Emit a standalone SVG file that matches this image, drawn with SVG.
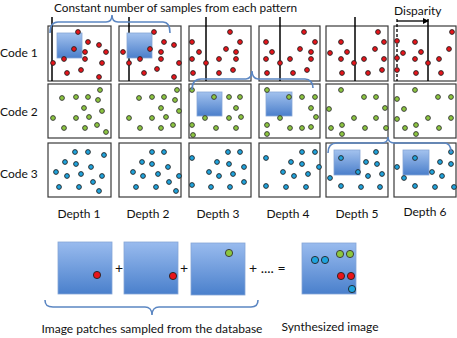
<svg xmlns="http://www.w3.org/2000/svg" width="457" height="338" viewBox="0 0 457 338">
<style>
text{font-family:Lato,"Liberation Sans",Arial,sans-serif;fill:#111;}
.lbl{font-size:12px;}
.box{fill:#fff;stroke:#3a3a3a;stroke-width:1.2;}
.patch{fill:url(#pg);stroke:#86a6d6;stroke-width:0.8;}
.bp{fill:url(#pg2);stroke:#86a6d6;stroke-width:0.8;}
.r{fill:#e8141a;stroke:#222;stroke-width:0.9;}
.g{fill:#8cc63f;stroke:#333;stroke-width:0.9;}
.b{fill:#1fa3dd;stroke:#222;stroke-width:0.9;}
.vl{stroke:#000;stroke-width:1.5;}
.brace{fill:none;stroke:#5b86c2;stroke-width:1.6;}
</style>
<defs>
<linearGradient id="pg" x1="0" y1="0" x2="0" y2="1"><stop offset="0" stop-color="#a3c2ee"/><stop offset="1" stop-color="#4b7fcb"/></linearGradient>
<linearGradient id="pg2" x1="0" y1="0" x2="0" y2="1"><stop offset="0" stop-color="#99bbee"/><stop offset="1" stop-color="#4a80cc"/></linearGradient>
<marker id="ah" markerWidth="6" markerHeight="6" refX="5" refY="3" orient="auto" markerUnits="userSpaceOnUse"><path d="M0,0 L6,3 L0,6 z" fill="#000"/></marker>
</defs>

<text class="lbl" x="54" y="12" style="font-size:11.8px">Constant number of samples from each pattern</text>
<text class="lbl" x="0" y="57">Code 1</text>
<text class="lbl" x="0" y="116">Code 2</text>
<text class="lbl" x="0" y="178">Code 3</text>
<g id="depth-labels" class="lbl" text-anchor="middle">
<text x="79" y="218">Depth 1</text>
<text x="148" y="218">Depth 2</text>
<text x="218" y="218">Depth 3</text>
<text x="288" y="218">Depth 4</text>
<text x="357" y="218">Depth 5</text>
<text x="425" y="216">Depth 6</text>
</g>

<!-- Row 1 -->
<g id="c1d1"><rect class="box" x="48" y="26" width="63" height="55"/><line class="vl" x1="52" y1="17" x2="52" y2="81"/><rect class="patch" x="57" y="33" width="25" height="25"/>
<g class="r"><circle cx="78" cy="32" r="2.4"/><circle cx="88" cy="42" r="2.4"/><circle cx="99" cy="45" r="2.4"/><circle cx="74" cy="49" r="2.4"/><circle cx="85" cy="52" r="2.4"/><circle cx="106" cy="52" r="2.4"/><circle cx="64" cy="59" r="2.4"/><circle cx="85" cy="59" r="2.4"/><circle cx="53" cy="63" r="2.4"/><circle cx="102" cy="63" r="2.4"/><circle cx="81" cy="70" r="2.4"/><circle cx="67" cy="73" r="2.4"/><circle cx="99" cy="77" r="2.4"/></g></g>
<g id="c1d2"><rect class="box" x="119" y="26" width="62" height="55"/><line class="vl" x1="129" y1="17" x2="129" y2="81"/><rect class="patch" x="127" y="33" width="25" height="25"/>
<g class="r"><circle cx="154" cy="32" r="2.4"/><circle cx="164" cy="42" r="2.4"/><circle cx="174" cy="45" r="2.4"/><circle cx="150" cy="49" r="2.4"/><circle cx="161" cy="52" r="2.4"/><circle cx="123" cy="52" r="2.4"/><circle cx="140" cy="59" r="2.4"/><circle cx="161" cy="59" r="2.4"/><circle cx="129" cy="63" r="2.4"/><circle cx="179" cy="63" r="2.4"/><circle cx="157" cy="69" r="2.4"/><circle cx="144" cy="73" r="2.4"/><circle cx="174" cy="77" r="2.4"/></g></g>
<g id="c1d3"><rect class="box" x="189" y="26" width="62" height="55"/><line class="vl" x1="206" y1="17" x2="206" y2="81"/>
<g class="r"><circle cx="230" cy="32" r="2.4"/><circle cx="240" cy="42" r="2.4"/><circle cx="192" cy="42" r="2.4"/><circle cx="226" cy="49" r="2.4"/><circle cx="199" cy="52" r="2.4"/><circle cx="236" cy="52" r="2.4"/><circle cx="192" cy="59" r="2.4"/><circle cx="219" cy="59" r="2.4"/><circle cx="236" cy="59" r="2.4"/><circle cx="206" cy="63" r="2.4"/><circle cx="233" cy="70" r="2.4"/><circle cx="193" cy="73" r="2.4"/><circle cx="219" cy="73" r="2.4"/></g></g>
<g id="c1d4"><rect class="box" x="259" y="26" width="61" height="55"/><line class="vl" x1="280" y1="17" x2="280" y2="81"/>
<g class="r"><circle cx="304" cy="32" r="2.4"/><circle cx="315" cy="42" r="2.4"/><circle cx="266" cy="42" r="2.4"/><circle cx="300" cy="49" r="2.4"/><circle cx="272" cy="52" r="2.4"/><circle cx="311" cy="52" r="2.4"/><circle cx="266" cy="59" r="2.4"/><circle cx="290" cy="59" r="2.4"/><circle cx="311" cy="59" r="2.4"/><circle cx="280" cy="63" r="2.4"/><circle cx="307" cy="70" r="2.4"/><circle cx="267" cy="73" r="2.4"/><circle cx="293" cy="73" r="2.4"/></g></g>
<g id="c1d5"><rect class="box" x="326" y="26" width="62" height="55"/><line class="vl" x1="355" y1="17" x2="355" y2="81"/>
<g class="r"><circle cx="378" cy="32" r="2.4"/><circle cx="341" cy="42" r="2.4"/><circle cx="384" cy="42" r="2.4"/><circle cx="375" cy="49" r="2.4"/><circle cx="347" cy="52" r="2.4"/><circle cx="330" cy="53" r="2.4"/><circle cx="341" cy="59" r="2.4"/><circle cx="364" cy="59" r="2.4"/><circle cx="384" cy="59" r="2.4"/><circle cx="354" cy="63" r="2.4"/><circle cx="382" cy="70" r="2.4"/><circle cx="342" cy="73" r="2.4"/><circle cx="368" cy="73" r="2.4"/></g></g>
<g id="c1d6"><rect class="box" x="394" y="26" width="62" height="55"/><line class="vl" x1="428" y1="19" x2="428" y2="81"/><line x1="397" y1="19" x2="397" y2="81" stroke="#000" stroke-width="1.3" stroke-dasharray="3,2"/>
<g class="r"><circle cx="452" cy="32" r="2.4"/><circle cx="415" cy="42" r="2.4"/><circle cx="397" cy="41" r="2.4"/><circle cx="449" cy="49" r="2.4"/><circle cx="421" cy="52" r="2.4"/><circle cx="403" cy="53" r="2.4"/><circle cx="397" cy="58" r="2.4"/><circle cx="415" cy="59" r="2.4"/><circle cx="439" cy="59" r="2.4"/><circle cx="428" cy="63" r="2.4"/><circle cx="397" cy="70" r="2.4"/><circle cx="416" cy="73" r="2.4"/><circle cx="441" cy="73" r="2.4"/></g></g>
<g id="disparity"><text class="lbl" x="394" y="15">Disparity</text><line x1="397" y1="21" x2="428" y2="21" stroke="#000" stroke-width="1.3" marker-end="url(#ah)"/></g>

<!-- Row 2 -->
<g id="c2d1"><rect class="box" x="48" y="84" width="63" height="54"/>
<g class="g"><circle cx="100" cy="90" r="2.4"/><circle cx="62" cy="98" r="2.4"/><circle cx="76" cy="97" r="2.4"/><circle cx="88" cy="97" r="2.4"/><circle cx="98" cy="100" r="2.4"/><circle cx="84" cy="108" r="2.4"/><circle cx="102" cy="111" r="2.4"/><circle cx="53" cy="118" r="2.4"/><circle cx="76" cy="118" r="2.4"/><circle cx="89" cy="117" r="2.4"/><circle cx="64" cy="128" r="2.4"/><circle cx="85" cy="128" r="2.4"/><circle cx="97" cy="125" r="2.4"/><circle cx="106" cy="132" r="2.4"/></g></g>
<g id="c2d2"><rect class="box" x="119" y="84" width="62" height="54"/>
<g class="g"><circle cx="177" cy="90" r="2.4"/><circle cx="139" cy="98" r="2.4"/><circle cx="152" cy="97" r="2.4"/><circle cx="164" cy="97" r="2.4"/><circle cx="175" cy="100" r="2.4"/><circle cx="161" cy="108" r="2.4"/><circle cx="179" cy="111" r="2.4"/><circle cx="129" cy="118" r="2.4"/><circle cx="152" cy="118" r="2.4"/><circle cx="166" cy="117" r="2.4"/><circle cx="140" cy="128" r="2.4"/><circle cx="161" cy="128" r="2.4"/><circle cx="173" cy="125" r="2.4"/></g></g>
<g id="c2d3"><rect class="box" x="189" y="84" width="62" height="54"/><rect class="patch" x="197" y="92" width="25" height="24"/>
<g class="g"><circle cx="192" cy="90" r="2.4"/><circle cx="214" cy="97" r="2.4"/><circle cx="229" cy="97" r="2.4"/><circle cx="240" cy="97" r="2.4"/><circle cx="236" cy="108" r="2.4"/><circle cx="192" cy="125" r="2.4"/><circle cx="193" cy="135" r="2.4"/><circle cx="205" cy="118" r="2.4"/><circle cx="216" cy="128" r="2.4"/><circle cx="229" cy="118" r="2.4"/><circle cx="241" cy="117" r="2.4"/><circle cx="236" cy="128" r="2.4"/></g></g>
<g id="c2d4"><rect class="box" x="259" y="84" width="61" height="54"/><rect class="patch" x="266" y="92" width="26" height="24"/>
<g class="g"><circle cx="267" cy="90" r="2.4"/><circle cx="289" cy="97" r="2.4"/><circle cx="302" cy="97" r="2.4"/><circle cx="315" cy="97" r="2.4"/><circle cx="311" cy="108" r="2.4"/><circle cx="316" cy="117" r="2.4"/><circle cx="280" cy="118" r="2.4"/><circle cx="267" cy="125" r="2.4"/><circle cx="267" cy="134" r="2.4"/><circle cx="290" cy="128" r="2.4"/><circle cx="302" cy="128" r="2.4"/><circle cx="311" cy="127" r="2.4"/></g></g>
<g id="c2d5"><rect class="box" x="326" y="84" width="62" height="54"/>
<g class="g"><circle cx="341" cy="90" r="2.4"/><circle cx="364" cy="97" r="2.4"/><circle cx="376" cy="97" r="2.4"/><circle cx="385" cy="108" r="2.4"/><circle cx="329" cy="109" r="2.4"/><circle cx="354" cy="118" r="2.4"/><circle cx="376" cy="118" r="2.4"/><circle cx="342" cy="125" r="2.4"/><circle cx="331" cy="128" r="2.4"/><circle cx="365" cy="128" r="2.4"/><circle cx="386" cy="128" r="2.4"/><circle cx="342" cy="134" r="2.4"/></g></g>
<g id="c2d6"><rect class="box" x="394" y="84" width="62" height="54"/>
<g class="g"><circle cx="415" cy="90" r="2.4"/><circle cx="397" cy="99" r="2.4"/><circle cx="438" cy="97" r="2.4"/><circle cx="451" cy="97" r="2.4"/><circle cx="404" cy="109" r="2.4"/><circle cx="397" cy="119" r="2.4"/><circle cx="428" cy="118" r="2.4"/><circle cx="451" cy="118" r="2.4"/><circle cx="405" cy="128" r="2.4"/><circle cx="416" cy="125" r="2.4"/><circle cx="439" cy="128" r="2.4"/><circle cx="416" cy="134" r="2.4"/></g></g>

<!-- Row 3 -->
<g id="c3d1"><rect class="box" x="48" y="143" width="63" height="54"/>
<g class="b"><circle cx="75" cy="152" r="2.4"/><circle cx="88" cy="152" r="2.4"/><circle cx="104" cy="155" r="2.4"/><circle cx="65" cy="162" r="2.4"/><circle cx="76" cy="164" r="2.4"/><circle cx="91" cy="167" r="2.4"/><circle cx="56" cy="172" r="2.4"/><circle cx="67" cy="176" r="2.4"/><circle cx="81" cy="174" r="2.4"/><circle cx="102" cy="176" r="2.4"/><circle cx="93" cy="182" r="2.4"/><circle cx="59" cy="187" r="2.4"/><circle cx="79" cy="187" r="2.4"/><circle cx="99" cy="191" r="2.4"/></g></g>
<g id="c3d2"><rect class="box" x="119" y="143" width="62" height="54"/>
<g class="b"><circle cx="152" cy="152" r="2.4"/><circle cx="164" cy="152" r="2.4"/><circle cx="142" cy="162" r="2.4"/><circle cx="152" cy="164" r="2.4"/><circle cx="168" cy="167" r="2.4"/><circle cx="133" cy="172" r="2.4"/><circle cx="143" cy="176" r="2.4"/><circle cx="158" cy="174" r="2.4"/><circle cx="179" cy="176" r="2.4"/><circle cx="169" cy="182" r="2.4"/><circle cx="136" cy="187" r="2.4"/><circle cx="156" cy="187" r="2.4"/><circle cx="176" cy="191" r="2.4"/></g></g>
<g id="c3d3"><rect class="box" x="189" y="143" width="62" height="54"/>
<g class="b"><circle cx="192" cy="158" r="2.4"/><circle cx="228" cy="152" r="2.4"/><circle cx="240" cy="152" r="2.4"/><circle cx="217" cy="162" r="2.4"/><circle cx="229" cy="164" r="2.4"/><circle cx="244" cy="167" r="2.4"/><circle cx="209" cy="172" r="2.4"/><circle cx="219" cy="176" r="2.4"/><circle cx="233" cy="174" r="2.4"/><circle cx="244" cy="182" r="2.4"/><circle cx="192" cy="185" r="2.4"/><circle cx="211" cy="187" r="2.4"/><circle cx="230" cy="187" r="2.4"/></g></g>
<g id="c3d4"><rect class="box" x="259" y="143" width="61" height="54"/>
<g class="b"><circle cx="266" cy="158" r="2.4"/><circle cx="302" cy="152" r="2.4"/><circle cx="315" cy="152" r="2.4"/><circle cx="291" cy="162" r="2.4"/><circle cx="302" cy="164" r="2.4"/><circle cx="319" cy="167" r="2.4"/><circle cx="283" cy="172" r="2.4"/><circle cx="294" cy="176" r="2.4"/><circle cx="308" cy="174" r="2.4"/><circle cx="266" cy="186" r="2.4"/><circle cx="286" cy="187" r="2.4"/><circle cx="306" cy="187" r="2.4"/></g></g>
<g id="c3d5"><rect class="box" x="326" y="143" width="62" height="54"/><rect class="patch" x="334" y="150" width="26" height="25"/>
<g class="b"><circle cx="341" cy="158" r="2.4"/><circle cx="376" cy="152" r="2.4"/><circle cx="366" cy="162" r="2.4"/><circle cx="377" cy="164" r="2.4"/><circle cx="358" cy="172" r="2.4"/><circle cx="330" cy="178" r="2.4"/><circle cx="368" cy="176" r="2.4"/><circle cx="382" cy="174" r="2.4"/><circle cx="341" cy="186" r="2.4"/><circle cx="361" cy="187" r="2.4"/><circle cx="380" cy="187" r="2.4"/></g></g>
<g id="c3d6"><rect class="box" x="394" y="143" width="62" height="54"/><rect class="patch" x="403" y="150" width="26" height="25"/>
<g class="b"><circle cx="415" cy="158" r="2.4"/><circle cx="451" cy="152" r="2.4"/><circle cx="440" cy="162" r="2.4"/><circle cx="451" cy="164" r="2.4"/><circle cx="397" cy="167" r="2.4"/><circle cx="432" cy="172" r="2.4"/><circle cx="442" cy="176" r="2.4"/><circle cx="404" cy="178" r="2.4"/><circle cx="415" cy="186" r="2.4"/><circle cx="435" cy="187" r="2.4"/><circle cx="454" cy="187" r="2.4"/></g></g>

<!-- Braces -->
<g id="connectors" class="brace">
<path d="M50,33 C50,26 52,22 58,22 L106,22 C110,22 112,19 112,15 C112,19 114,22 118,22 L163,22 C168,22 170,26 170,33"/>
<path d="M192,90 C192,83 195,79 201,79 L246,79 C250,79 252,75 252,71 C252,75 254,79 258,79 L305,79 C310,79 313,83 313,88"/>
<path d="M328,153 C328,147 331,143 337,143 L382,143 C386,143 388,140 388,137 C388,140 390,143 394,143 L444,143 C449,143 451,147 451,152"/>
<path d="M45,300 C45,305 47,307 53,307 L145,307 C149,307 152,310 152,315 C152,310 155,307 159,307 L251,307 C256,307 258,305 258,300"/>
</g>

<!-- Bottom -->
<g id="patchA"><rect class="bp" x="58" y="242" width="54" height="52"/><circle class="r" cx="97" cy="275" r="3.6"/></g>
<text class="lbl" x="119" y="273" text-anchor="middle" style="font-size:14px">+</text>
<g id="patchB"><rect class="bp" x="124" y="242" width="54" height="52"/><circle class="r" cx="173" cy="276" r="3.6"/></g>
<text class="lbl" x="184" y="273" text-anchor="middle" style="font-size:14px">+</text>
<g id="patchC"><rect class="bp" x="191" y="243" width="54" height="52"/><circle class="g" cx="229" cy="253" r="3.6"/></g>
<text class="lbl" x="249" y="273" style="font-size:14px">+ .... =</text>
<g id="synth"><rect class="bp" x="302" y="243" width="54" height="51"/>
<circle class="b" cx="315" cy="260" r="3.6"/><circle class="b" cx="325" cy="260" r="3.6"/><circle class="g" cx="340" cy="254" r="3.6"/><circle class="g" cx="350" cy="254" r="3.6"/><circle class="r" cx="341" cy="276" r="3.6"/><circle class="r" cx="351" cy="276" r="3.6"/><circle class="b" cx="352" cy="289" r="3.6"/></g>
<text class="lbl" x="152" y="333" text-anchor="middle">Image patches sampled from the database</text>
<text class="lbl" x="330" y="331" text-anchor="middle">Synthesized image</text>
</svg>
